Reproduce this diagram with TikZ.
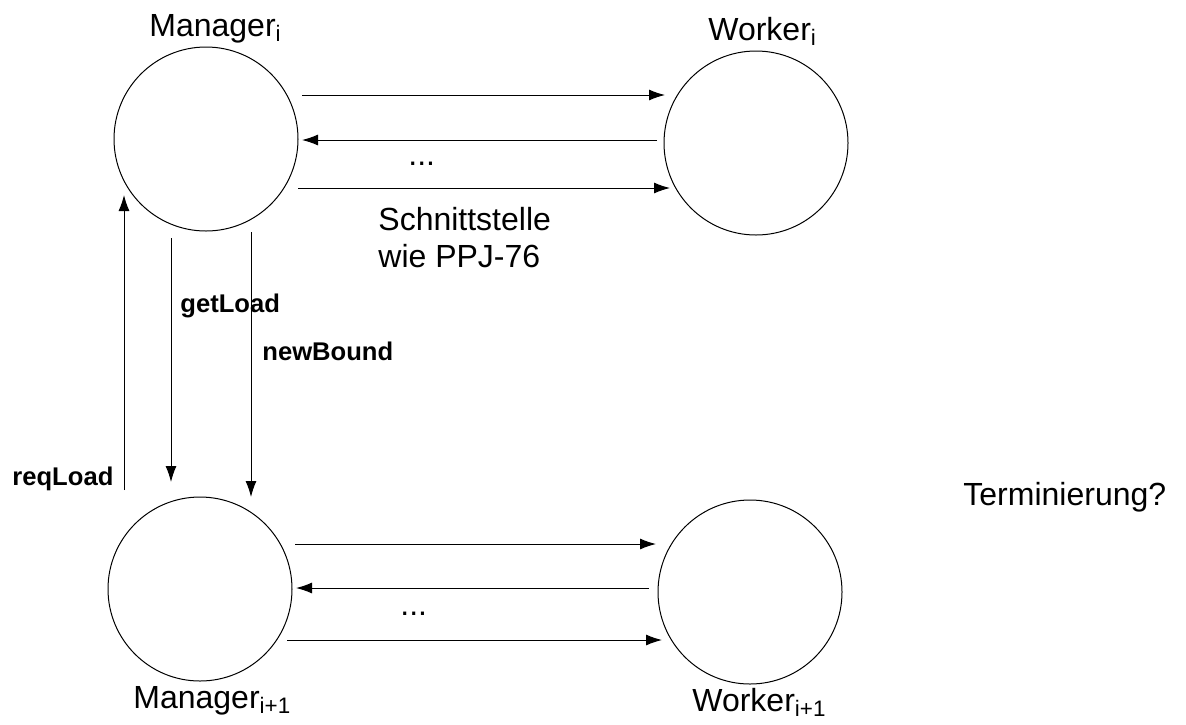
\documentclass[tikz,border=0pt]{standalone}
\usepackage{fontspec}
\setmainfont{Liberation Sans}
\usetikzlibrary{arrows.meta,calc}
\begin{document}
\begin{tikzpicture}[x=0.5pt,y=-0.5pt,
  proc/.style={circle,draw,line width=0.5pt,minimum size=92pt,inner sep=0pt},
  arr/.style={line width=0.5pt,-{Latex[length=8pt,width=5.5pt]}},
  big/.style={font=\fontsize{16}{19}\selectfont,inner sep=0pt},
  lbl/.style={font=\fontsize{12.8}{15}\selectfont\bfseries,inner sep=0pt}]
\useasboundingbox (0,0) rectangle (1186,724);
\node[proc] (m1) at (206,139) {};
\node[proc] (w1) at (756,143) {};
\node[proc] (m2) at (200,589) {};
\node[proc] (w2) at (750,592) {};
% labels
\node[big,anchor=base west] (lm1) at (149,36) {Manager\textsubscript{i}};
\node[big,anchor=base west] (lw1) at (708,40) {Worker\textsubscript{i}};
\node[big,anchor=base west] (lm2) at (133,708) {Manager\textsubscript{i+1}};
\node[big,anchor=base west] (lw2) at (692,711) {Worker\textsubscript{i+1}};
\node[big,anchor=base west] (term) at (963,505) {Terminierung?};
\node[big,anchor=base west] (s1) at (378,230) {Schnittstelle};
\node[big,anchor=base west] (s2) at (378,267) {wie PPJ-76};
\node[big,anchor=base west] (d1) at (408,165) {...};
\node[big,anchor=base west] (d2) at (400,615) {...};
\node[lbl,anchor=base west] (gl) at (180,312) {getLoad};
\node[lbl,anchor=base west] (nb) at (262,360) {newBound};
\node[lbl,anchor=base west] (rl) at (12,485) {reqLoad};
% top arrows
\draw[arr] ($(m1.center)+(96,-44)$) -- ($(w1.center)+(-91,-48)$);
\draw[arr] ($(w1.center)+(-99,-3)$) -- ($(m1.center)+(96,1)$);
\draw[arr] ($(m1.center)+(92,49)$) -- ($(w1.center)+(-86,45)$);
% bottom arrows
\draw[arr] ($(m2.center)+(95,-45)$) -- ($(w2.center)+(-94,-48)$);
\draw[arr] ($(w2.center)+(-101,-4)$) -- ($(m2.center)+(96,-1)$);
\draw[arr] ($(m2.center)+(87,51)$) -- ($(w2.center)+(-88,48)$);
% vertical arrows
\draw[arr] ($(m2.center)+(-76,-99)$) -- ($(m1.center)+(-82,56)$);
\draw[arr] ($(m1.center)+(-35,99)$) -- ($(m2.center)+(-29,-107)$);
\draw[arr] ($(m1.center)+(45,93)$) -- ($(m2.center)+(51,-92)$);
\end{tikzpicture}
\end{document}
